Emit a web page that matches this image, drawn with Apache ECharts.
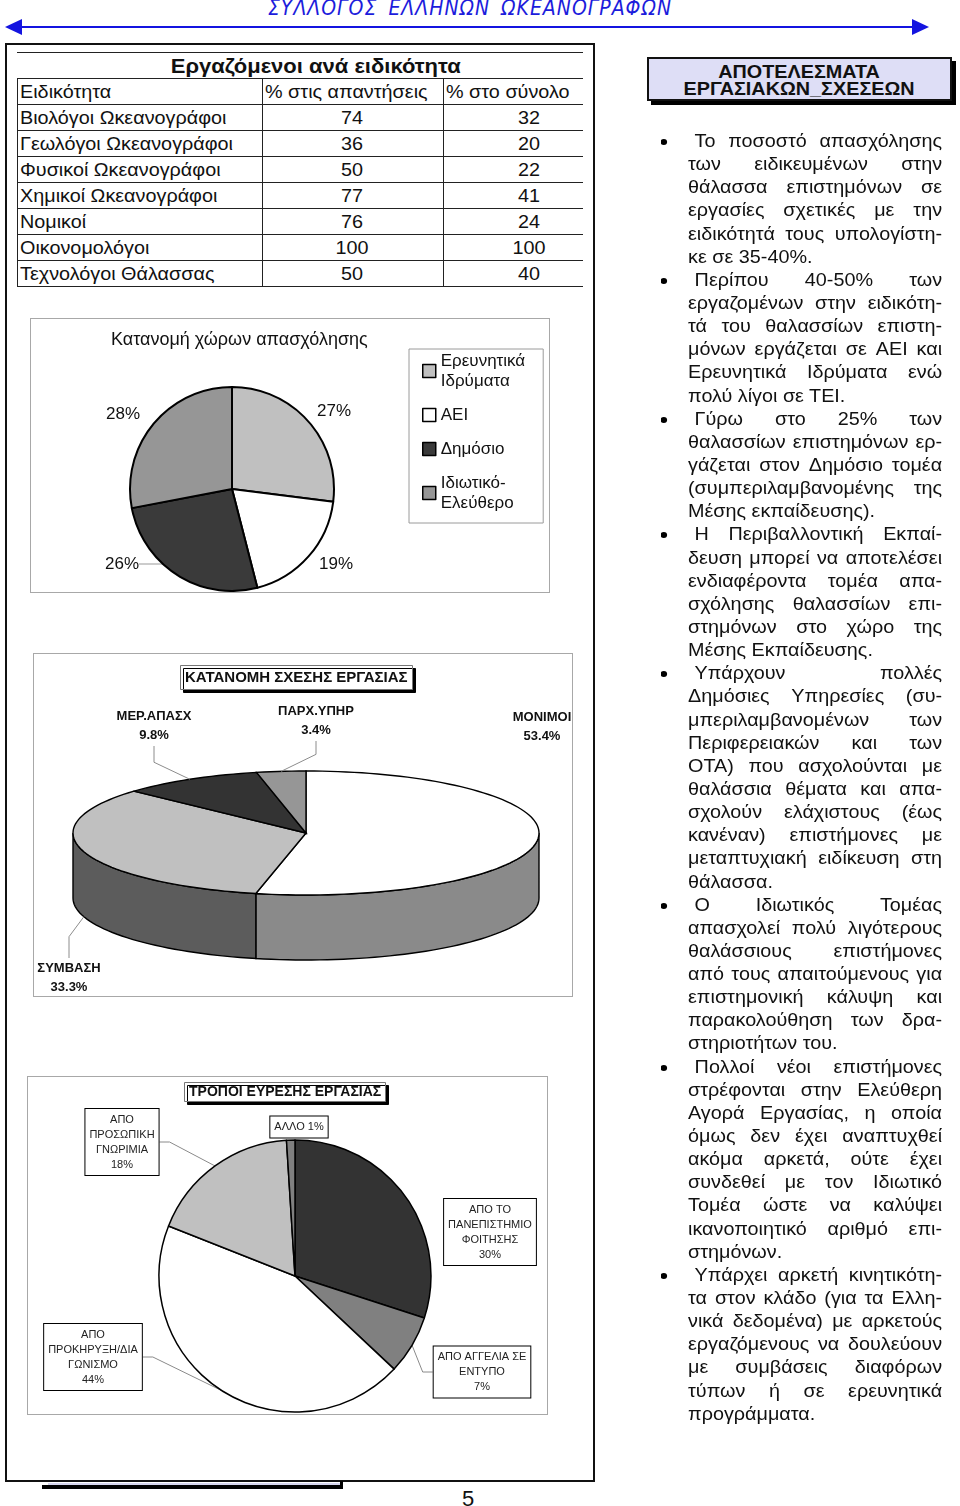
<!DOCTYPE html>
<html lang="el">
<head>
<meta charset="utf-8">
<title>Εργαζόμενοι ανά ειδικότητα</title>
<script src="https://cdn.jsdelivr.net/npm/echarts@6.0.0/dist/echarts.min.js"></script>
<style>
  html, body { margin: 0; padding: 0; background: #fff; }
  body { position: relative; width: 960px; height: 1506px; overflow: hidden; font-family: "Liberation Sans", Arial, sans-serif; color: #111; }
  .abs { position: absolute; }
  #banner { left: 0; top: -4px; width: 940px; text-align: center; font-family: "Liberation Sans Narrow", "DejaVu Sans Condensed", sans-serif; font-stretch: condensed; font-style: italic; font-size: 21px; letter-spacing: 1px; word-spacing: 4px; color: #1c1cdc; white-space: nowrap; }
  #frame { left: 5px; top: 43px; width: 590px; height: 1439px; border: 2px solid #111; box-sizing: border-box; }
  .hl { position: absolute; height: 1px; background: #222; }
  .vl { position: absolute; width: 1px; background: #222; }
  .cell { position: absolute; height: 26px; line-height: 26px; font-size: 18px; white-space: nowrap; }
  .cell span { display: inline-block; transform: scaleX(1.1); transform-origin: left center; }
  .cell.mid span { transform-origin: center center; }
  .chart { position: absolute; border: 1px solid #a8a8a8; box-sizing: border-box; }
  #resultsBox { left: 647px; top: 57px; width: 305px; height: 44px; box-sizing: border-box; border: 2px solid #111; background: #dedef6; box-shadow: 4px 4px 0 #000; text-align: center; font-weight: bold; font-size: 18px; line-height: 17px; padding-top: 5px; }
  #resultsBox span { display: inline-block; transform: scaleX(1.1); }
  #notes { left: 688px; top: 130px; width: 231px; font-size: 18px; transform: scaleX(1.1); transform-origin: left top; }
  .ln { height: 23.15px; line-height: 23.15px; white-space: nowrap; position: relative; }
  .ln.just { display: flex; justify-content: space-between; }
  .ln.first { padding-left: 6px; }
  .dot { position: absolute; left: -25px; top: 9px; width: 6px; height: 6px; border-radius: 50%; background: #000; }
  #pageNo { left: 462px; top: 1486px; font-size: 22px; }
</style>
</head>
<body>

<div id="banner" class="abs">ΣΥΛΛΟΓΟΣ ΕΛΛΗΝΩΝ ΩΚΕΑΝΟΓΡΑΦΩΝ</div>
<svg class="abs" style="left:0;top:17px" width="960" height="22">
  <line x1="18" y1="10" x2="916" y2="10" stroke="#1414e0" stroke-width="2"/>
  <polygon points="5,10 22,2 22,18" fill="#1414e0"/>
  <polygon points="929,10 912,2 912,18" fill="#1414e0"/>
</svg>

<div id="frame" class="abs"></div>
<div id="table" class="abs" style="left:0;top:0"></div>

<div id="workplace" class="chart" style="left:30px;top:318px;width:520px;height:275px"></div>
<div id="relation" class="chart" style="left:33px;top:653px;width:540px;height:344px"></div>
<div id="search" class="chart" style="left:27px;top:1076px;width:521px;height:339px"></div>

<div class="abs" style="left:48px;top:1483px;width:295px;height:2px;background:#d6d6ee"></div>
<div class="abs" style="left:42px;top:1485px;width:301px;height:4px;background:#000"></div>
<div class="abs" style="left:340px;top:1481px;width:3px;height:6px;background:#000"></div>
<div id="pageNo" class="abs">5</div>

<div id="resultsBox" class="abs"><span>ΑΠΟΤΕΛΕΣΜΑΤΑ<br>ΕΡΓΑΣΙΑΚΩΝ_ΣΧΕΣΕΩΝ</span></div>
<div id="notes" class="abs"></div>

<script>
// ---- data ----
const tableTitle = 'Εργαζόμενοι ανά ειδικότητα';
const tableHeader = ['Ειδικότητα', '% στις απαντήσεις', '% στο σύνολο'];
const specialties = ['Βιολόγοι Ωκεανογράφοι', 'Γεωλόγοι Ωκεανογράφοι', 'Φυσικοί Ωκεανογράφοι', 'Χημικοί Ωκεανογράφοι', 'Νομικοί', 'Οικονομολόγοι', 'Τεχνολόγοι Θάλασσας'];
const pctAnswers = [74, 36, 50, 77, 76, 100, 50];
const pctTotal = [32, 20, 22, 41, 24, 100, 40];

const workplaceNames = ['Ερευνητικά\nΙδρύματα', 'ΑΕΙ', 'Δημόσιο', 'Ιδιωτικό-\nΕλεύθερο'];
const workplaceValues = [27, 19, 26, 28];

const relationNames = ['ΜΟΝΙΜΟΙ', 'ΣΥΜΒΑΣΗ', 'ΜΕΡ.ΑΠΑΣΧ', 'ΠΑΡΧ.ΥΠΗΡ'];
const relationValues = [53.4, 33.3, 9.8, 3.4];

const searchNames = ['ΑΠΟ ΤΟ\nΠΑΝΕΠΙΣΤΗΜΙΟ\nΦΟΙΤΗΣΗΣ', 'ΑΠΟ ΑΓΓΕΛΙΑ ΣΕ\nΕΝΤΥΠΟ', 'ΑΠΟ\nΠΡΟΚΗΡΥΞΗ/ΔΙΑ\nΓΩΝΙΣΜΟ', 'ΑΠΟ\nΠΡΟΣΩΠΙΚΗ\nΓΝΩΡΙΜΙΑ', 'ΑΛΛΟ'];
const searchValues = [30, 7, 44, 18, 1];

const notes = [
  [' Το ποσοστό απασχόλησης', 'των ειδικευμένων στην', 'θάλασσα επιστημόνων σε', 'εργασίες σχετικές με την', 'ειδικότητά τους υπολογίστη-', 'κε σε 35-40%.'],
  [' Περίπου 40-50% των', 'εργαζομένων στην ειδικότη-', 'τά του θαλασσίων επιστη-', 'μόνων εργάζεται σε ΑΕΙ και', 'Ερευνητικά Ιδρύματα ενώ', 'πολύ λίγοι σε ΤΕΙ.'],
  [' Γύρω στο 25% των', 'θαλασσίων επιστημόνων ερ-', 'γάζεται στον Δημόσιο τομέα', '(συμπεριλαμβανομένης της', 'Μέσης εκπαίδευσης).'],
  [' Η Περιβαλλοντική Εκπαί-', 'δευση μπορεί να αποτελέσει', 'ενδιαφέροντα τομέα απα-', 'σχόλησης θαλασσίων επι-', 'στημόνων στο χώρο της', 'Μέσης Εκπαίδευσης.'],
  [' Υπάρχουν πολλές', 'Δημόσιες Υπηρεσίες (συ-', 'μπεριλαμβανομένων των', 'Περιφερειακών και των', 'ΟΤΑ) που ασχολούνται με', 'θαλάσσια θέματα και απα-', 'σχολούν ελάχιστους (έως', 'κανέναν) επιστήμονες με', 'μεταπτυχιακή ειδίκευση στη', 'θάλασσα.'],
  [' Ο Ιδιωτικός Τομέας', 'απασχολεί πολύ λιγότερους', 'θαλάσσιους επιστήμονες', 'από τους απαιτούμενους για', 'επιστημονική κάλυψη και', 'παρακολούθηση των δρα-', 'στηριοτήτων του.'],
  [' Πολλοί νέοι επιστήμονες', 'στρέφονται στην Ελεύθερη', 'Αγορά Εργασίας, η οποία', 'όμως δεν έχει αναπτυχθεί', 'ακόμα αρκετά, ούτε έχει', 'συνδεθεί με τον Ιδιωτικό', 'Τομέα ώστε να καλύψει', 'ικανοποιητικό αριθμό επι-', 'στημόνων.'],
  [' Υπάρχει αρκετή κινητικότη-', 'τα στον κλάδο (για τα Ελλη-', 'νικά δεδομένα) με αρκετούς', 'εργαζόμενους να δουλεύουν', 'με συμβάσεις διαφόρων', 'τύπων ή σε ερευνητικά', 'προγράμματα.']
];

// ---- styles / layout ----
const FONT = '"Liberation Sans", Arial, sans-serif';
const workplaceColors = ['#c0c0c0', '#ffffff', '#3a3a3a', '#969696'];
const workplaceLabelPos = [[303, 92], [305, 245], [91, 245], [92, 95]];
const relationPie = { cx: 272, cy: 179, rx: 233, ry: 62, depth: 65 };
const relationTop = ['#ffffff', '#c0c0c0', '#333333', '#969696'];
const relationSide = ['#8a8a8a', '#5c5c5c', '#222222', '#666666'];
const relationLabelPos = [[508, 73], [35, 324], [120, 72], [282, 67]];
const relationLeader = [false, true, true, true];
const searchColors = ['#333333', '#808080', '#ffffff', '#c0c0c0', '#808080'];
const searchLabelPos = [[462, 155], [454, 295], [65, 280], [94, 65], [271, 50]];
const searchLeader = [false, true, true, true, false];

// ---- table ----
(function buildTable() {
  const t = document.getElementById('table');
  let html = '';
  const top = 52, rowH = 26, x0 = 17, x1 = 262, x2 = 443, x3 = 583;
  const nRows = specialties.length + 2;
  for (let k = 0; k <= nRows; k++) {
    html += `<div class="hl" style="left:${x0}px;top:${top + k * rowH}px;width:${x3 - x0}px"></div>`;
  }
  [x0, x1, x2].forEach(x => {
    html += `<div class="vl" style="left:${x}px;top:${top + rowH}px;height:${(nRows - 1) * rowH}px"></div>`;
  });
  html += `<div class="cell mid" style="left:${x0 + 32}px;width:${x3 - x0 - 32}px;top:${top + 1}px;text-align:center;font-weight:bold;font-size:20px"><span>${tableTitle}</span></div>`;
  let y = top + rowH + 1;
  html += `<div class="cell" style="left:${x0 + 3}px;top:${y}px"><span>${tableHeader[0]}</span></div>`;
  html += `<div class="cell" style="left:${x1 + 3}px;top:${y}px"><span>${tableHeader[1]}</span></div>`;
  html += `<div class="cell" style="left:${x2 + 3}px;top:${y}px"><span>${tableHeader[2]}</span></div>`;
  specialties.forEach((s, i) => {
    y = top + (i + 2) * rowH + 1;
    html += `<div class="cell" style="left:${x0 + 3}px;top:${y}px"><span>${s}</span></div>`;
    html += `<div class="cell mid" style="left:${x1}px;width:${x2 - x1}px;top:${y}px;text-align:center"><span>${pctAnswers[i]}</span></div>`;
    html += `<div class="cell mid" style="left:${x2 + 32}px;width:${x3 - x2 - 32}px;top:${y}px;text-align:center"><span>${pctTotal[i]}</span></div>`;
  });
  t.innerHTML = html;
})();

// ---- right column ----
(function buildNotes() {
  const box = document.getElementById('notes');
  notes.forEach(par => {
    par.forEach((line, j) => {
      const div = document.createElement('div');
      const last = j === par.length - 1;
      div.className = 'ln' + (last ? '' : ' just') + (j === 0 ? ' first' : '');
      if (last) {
        div.textContent = line.trim();
      } else {
        line.trim().split(/\s+/).forEach(w => {
          const s = document.createElement('span');
          s.textContent = w;
          div.appendChild(s);
        });
      }
      if (j === 0) {
        const d = document.createElement('div');
        d.className = 'dot';
        div.appendChild(d);
      }
      box.appendChild(div);
    });
  });
})();

// ---- chart 1: Κατανομή χώρων απασχόλησης ----
const chart1 = echarts.init(document.getElementById('workplace'));
chart1.setOption({
  animation: false,
  title: {
    text: 'Κατανομή χώρων απασχόλησης',
    left: 80,
    top: 12,
    padding: 0,
    textStyle: { fontSize: 18, fontWeight: 'normal', color: '#111', fontFamily: FONT }
  },
  legend: {
    orient: 'vertical',
    left: 378,
    top: 30,
    padding: [2, 18, 10, 13],
    itemGap: 14,
    itemWidth: 13,
    itemHeight: 13,
    icon: 'rect',
    borderColor: '#9a9a9a',
    borderWidth: 1,
    itemStyle: { borderColor: '#000', borderWidth: 1.5 },
    textStyle: { fontSize: 17, lineHeight: 20, color: '#111', fontFamily: FONT },
    data: workplaceNames
  },
  series: [{
    type: 'pie',
    center: [201, 170],
    radius: 102,
    startAngle: 90,
    clockwise: true,
    avoidLabelOverlap: false,
    itemStyle: { borderColor: '#000', borderWidth: 2 },
    label: { formatter: '{d}%', fontSize: 17, color: '#111', fontFamily: FONT },
    labelLine: { show: false },
    labelLayout: function (params) {
      const p = workplaceLabelPos[params.dataIndex];
      return { x: p[0], y: p[1], align: 'center', verticalAlign: 'middle' };
    },
    data: workplaceNames.map((n, i) => ({
      name: n,
      value: workplaceValues[i],
      itemStyle: { color: workplaceColors[i] },
      labelLine: i === 2 ? { show: true, lineStyle: { color: '#999', width: 1 } } : { show: false }
    }))
  }]
});

// ---- chart 2: Κατανομή σχέσης εργασίας (3D pie) ----
function relationSlice(params, api) {
  const i = params.dataIndex;
  const P = relationPie;
  const total = relationValues.reduce((a, b) => a + b, 0);
  let before = 0;
  for (let k = 0; k < i; k++) before += relationValues[k];
  const a0 = before / total * 360;
  const a1 = (before + api.value(0)) / total * 360;
  const pt = (deg, dz) => {
    const r = deg * Math.PI / 180;
    return [P.cx + P.rx * Math.sin(r), P.cy - P.ry * Math.cos(r) + (dz || 0)];
  };
  const arc = (d0, d1, dz) => {
    const n = Math.max(2, Math.ceil((d1 - d0) / 2));
    const pts = [];
    for (let j = 0; j <= n; j++) pts.push(pt(d0 + (d1 - d0) * j / n, dz));
    return pts;
  };
  const children = [];
  const s0 = Math.max(a0, 90), s1 = Math.min(a1, 270);
  if (s1 > s0) {
    children.push({
      type: 'polygon', z2: 1,
      shape: { points: arc(s0, s1, 0).concat(arc(s0, s1, P.depth).reverse()) },
      style: { fill: relationSide[i], stroke: '#000', lineWidth: 1.4 }
    });
  }
  children.push({
    type: 'polygon', z2: 2,
    shape: { points: [[P.cx, P.cy]].concat(arc(a0, a1, 0)) },
    style: { fill: relationTop[i], stroke: '#000', lineWidth: 1.4 }
  });
  const lp = relationLabelPos[i];
  if (relationLeader[i]) {
    const mid = (a0 + a1) / 2;
    const front = mid > 90 && mid < 270;
    const anchor = pt(mid, front ? P.depth : 0);
    const above = lp[1] < anchor[1];
    const pts = above
      ? [anchor, [lp[0], anchor[1] - 17], [lp[0], lp[1] + 20]]
      : [anchor, [lp[0], anchor[1] + 20], [lp[0], lp[1] - 20]];
    children.push({ type: 'polyline', z2: 3, shape: { points: pts }, style: { stroke: '#8c8c8c', lineWidth: 1, fill: null } });
  }
  children.push({
    type: 'text', z2: 4, x: lp[0], y: lp[1],
    style: {
      text: relationNames[i] + '\n' + api.value(0).toFixed(1) + '%',
      fontSize: 13, fontWeight: 'bold', fontFamily: FONT, lineHeight: 19,
      fill: '#111', align: 'center', verticalAlign: 'middle'
    }
  });
  return { type: 'group', children: children };
}

const chart2 = echarts.init(document.getElementById('relation'));
chart2.setOption({
  animation: false,
  title: {
    text: 'ΚΑΤΑΝΟΜΗ ΣΧΕΣΗΣ ΕΡΓΑΣΙΑΣ',
    left: 146,
    top: 11,
    padding: [5, 5, 5, 5],
    borderColor: '#777',
    borderWidth: 1,
    backgroundColor: '#fff',
    shadowColor: '#000',
    shadowBlur: 0,
    shadowOffsetX: 3,
    shadowOffsetY: 3,
    textStyle: { fontSize: 15, fontWeight: 'bold', color: '#111', fontFamily: FONT }
  },
  series: [{
    type: 'custom',
    coordinateSystem: 'none',
    renderItem: relationSlice,
    data: relationNames.map((n, i) => ({ name: n, value: relationValues[i] }))
  }]
});

// ---- chart 3: Τρόποι εύρεσης εργασίας ----
const chart3 = echarts.init(document.getElementById('search'));
chart3.setOption({
  animation: false,
  title: {
    text: 'ΤΡΟΠΟΙ ΕΥΡΕΣΗΣ ΕΡΓΑΣΙΑΣ',
    left: 156,
    top: 5,
    padding: [3, 5, 3, 5],
    borderColor: '#777',
    borderWidth: 1,
    backgroundColor: '#fff',
    shadowColor: '#000',
    shadowBlur: 0,
    shadowOffsetX: 3,
    shadowOffsetY: 3,
    textStyle: { fontSize: 14, fontWeight: 'bold', color: '#111', fontFamily: FONT }
  },
  series: [{
    type: 'pie',
    center: [267, 199],
    radius: 136,
    startAngle: 90,
    clockwise: true,
    avoidLabelOverlap: false,
    itemStyle: { borderColor: '#000', borderWidth: 1.5 },
    label: {
      formatter: p => p.dataIndex === 4 ? p.name + ' ' + p.percent + '%' : p.name + '\n' + p.percent + '%',
      fontSize: 11,
      lineHeight: 15,
      color: '#222',
      fontFamily: FONT,
      align: 'center',
      backgroundColor: '#fff',
      borderColor: '#000',
      borderWidth: 1,
      padding: [3, 4, 3, 4]
    },
    labelLayout: function (params) {
      const p = searchLabelPos[params.dataIndex];
      return { x: p[0], y: p[1], align: 'center', verticalAlign: 'middle' };
    },
    data: searchNames.map((n, i) => ({
      name: n,
      value: searchValues[i],
      itemStyle: { color: searchColors[i] },
      labelLine: searchLeader[i] ? { show: true, length: 10, length2: 10, lineStyle: { color: '#8a8a8a', width: 1 } } : { show: false }
    }))
  }]
});
</script>
</body>
</html>
